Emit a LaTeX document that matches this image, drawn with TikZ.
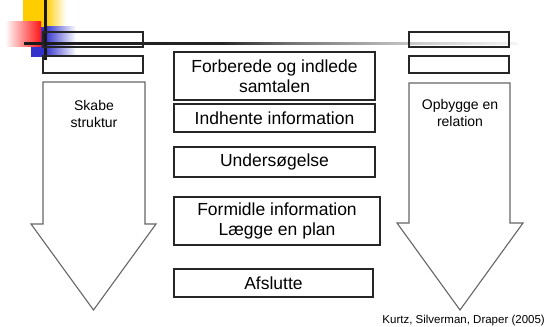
\documentclass[tikz,border=0pt]{standalone}
\usepackage{fontspec}
\setmainfont{Liberation Sans}
\definecolor{deco yellow}{RGB}{255,204,0}
\definecolor{deco blue}{RGB}{51,51,204}
\definecolor{deco red}{RGB}{255,20,20}
\pgfdeclarehorizontalshading{rulefade}{100bp}{color(0bp)=(black!90); color(25bp)=(black!90); color(45bp)=(black!85); color(52bp)=(black!55); color(65bp)=(black!20); color(75bp)=(black!4); color(100bp)=(black!4)}
\begin{document}
\begin{tikzpicture}[x=1pt,y=-1pt,
  box/.style={draw=black!85, line width=1.1pt, inner sep=0pt, align=center,
    font=\fontsize{17.5}{20}\selectfont},
  smallbox/.style={draw=black!85, line width=1.1pt, inner sep=0pt, minimum width=100pt},
  bigarrow/.style={draw=black!60, line width=1.1pt, line join=miter, fill=white},
  sidelabel/.style={align=center, inner sep=0pt, font=\fontsize{14}{17}\selectfont}]
\useasboundingbox (0,0) rectangle (545,326);
% decorative corner
\fill[deco yellow] (23,0) rectangle (45,27);
\shade[left color=deco yellow, right color=white] (45,0) rectangle (66,27);
\fill[deco blue] (31,27) rectangle (45,57);
\shade[left color=deco blue, right color=white] (45,27) rectangle (76,57);
\shade[shading angle=45, left color=white, right color=deco red] (5,22) rectangle (41,47);
% title rule
\shade[shading=rulefade] (24,42.3) rectangle (517,44.5);
\fill[black!90] (43.5,0) rectangle (46.5,60);
% small rectangles
\node[smallbox, minimum height=15pt] (l1) at (93,39.5) {};
\node[smallbox, minimum height=17pt] (l2) at (93,64.5) {};
\node[smallbox, minimum height=15pt] (r1) at (459,39.5) {};
\node[smallbox, minimum height=17pt] (r2) at (459,64.5) {};
% arrows
\draw[bigarrow] (43,82) -- (145,82) -- (145,224) -- (156,224) -- (93.5,310) -- (31,224) -- (43,224) -- cycle;
\draw[bigarrow] (409,83) -- (510,83) -- (510,223) -- (523,223) -- (460,310) -- (397,223) -- (409,223) -- cycle;
\node[sidelabel] (sl) at (94,114) {Skabe\\struktur};
\node[sidelabel] (sr) at (460,113) {Opbygge en\\relation};
% central boxes
\node[box, minimum width=201pt, minimum height=48pt] (b1) at (274.5,76) {Forberede og indlede\\samtalen};
\node[box, minimum width=201pt, minimum height=28pt] (b2) at (274.5,118) {Indhente information};
\node[box, minimum width=201pt, minimum height=30pt] (b3) at (274.5,162) {Undersøgelse};
\node[box, minimum width=206pt, minimum height=48pt] (b4) at (277,221) {Formidle information\\Lægge en plan};
\node[box, minimum width=199pt, minimum height=28pt] (b5) at (273.5,283) {Afslutte};
% caption
\node[anchor=base east, inner sep=0pt, font=\fontsize{11.5}{13}\selectfont] (cap) at (545,323) {Kurtz, Silverman, Draper (2005)};
\end{tikzpicture}
\end{document}
